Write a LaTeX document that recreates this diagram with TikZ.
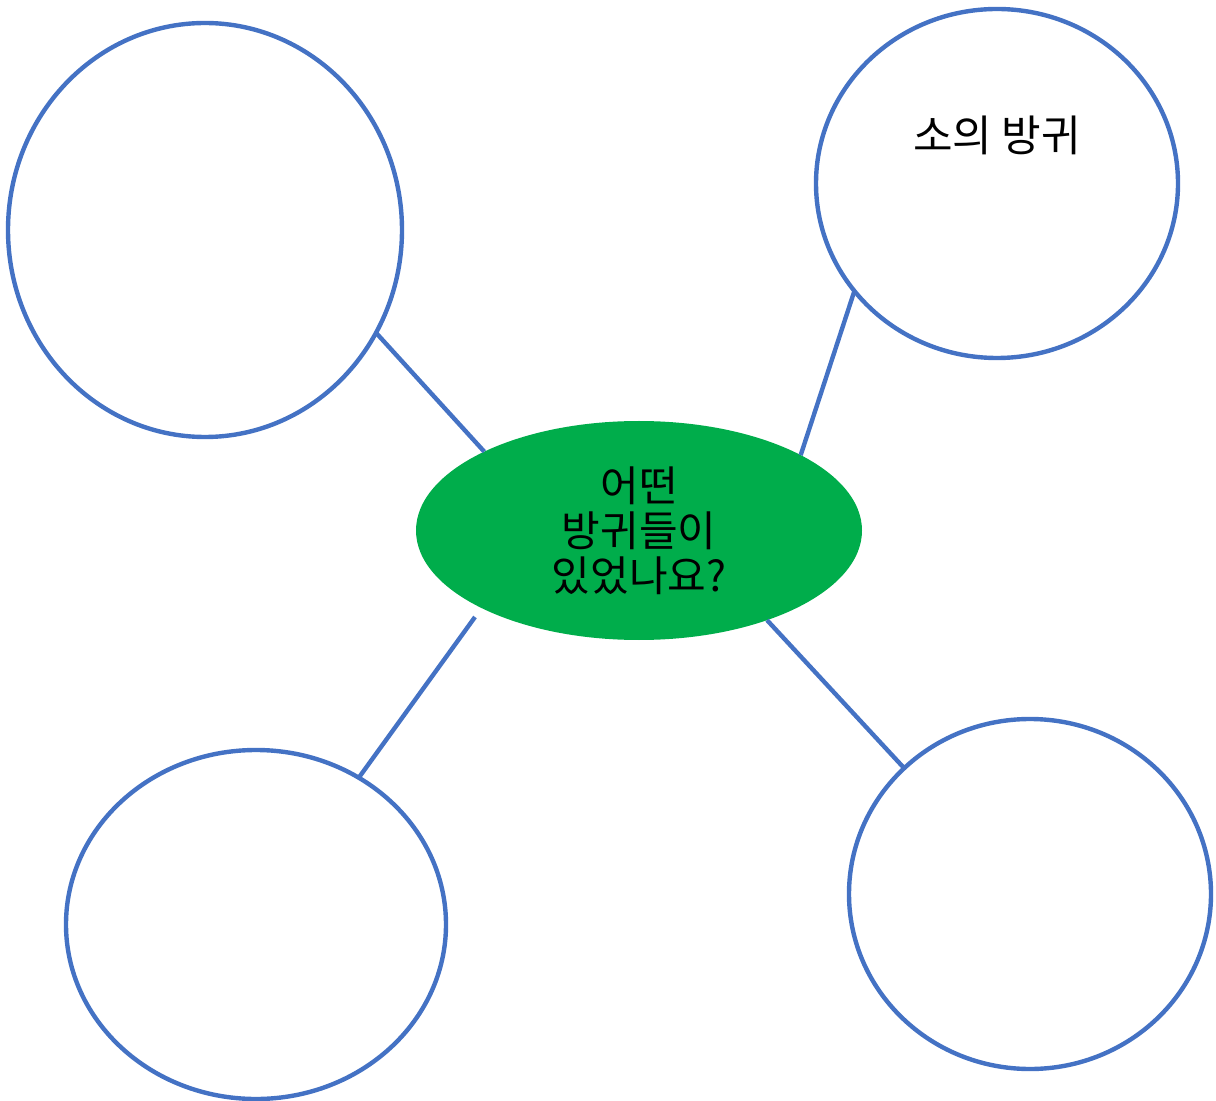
\documentclass[tikz,border=0pt]{standalone}
\usepackage{fontspec}
\setmainfont{Noto Sans CJK KR}
\usetikzlibrary{shapes.geometric}
\definecolor{bubbleblue}{HTML}{4472C4}
\definecolor{centergreen}{HTML}{00AD4B}
\tikzset{
  bubble/.style={ellipse, draw=bubbleblue, line width=2.2pt, fill=white, inner sep=0pt, outer sep=0pt},
  hub/.style={ellipse, fill=centergreen, inner sep=0pt, outer sep=0pt, minimum width=223pt, minimum height=109.5pt, align=center, font=\fontsize{21pt}{22.5pt}\selectfont},
  link/.style={draw=bubbleblue, line width=2.2pt},
  caption/.style={font=\fontsize{21.5pt}{24pt}\selectfont, inner sep=0pt}
}
\begin{document}
\begin{tikzpicture}[x=0.5pt,y=-0.5pt]
\useasboundingbox (0,0) rectangle (1216,1101);
\node[bubble, minimum width=197pt, minimum height=207pt] (tl) at (205,230) {};
\node[bubble, minimum width=181pt, minimum height=174.5pt] (tr) at (997,183.5) {};
\node[bubble, minimum width=190pt, minimum height=174.5pt] (bl) at (256,924.5) {};
\node[bubble, minimum width=181pt, minimum height=175pt] (br) at (1030,894) {};
\node[hub] (hub) at (639,530.5) {어떤\\방귀들이\\있었나요?};
\node[caption] (trtext) at (997,135) {소의 방귀};
\coordinate (hubsw) at (475,617);
\draw[link] (tl.-31.5) -- (hub.153.6);
\draw[link] (tr.217.1) -- (hub.25.8);
\draw[link] (bl.55.7) -- (hubsw);
\draw[link] (br.135.9) -- (hub.-35.6);
\end{tikzpicture}
\end{document}
